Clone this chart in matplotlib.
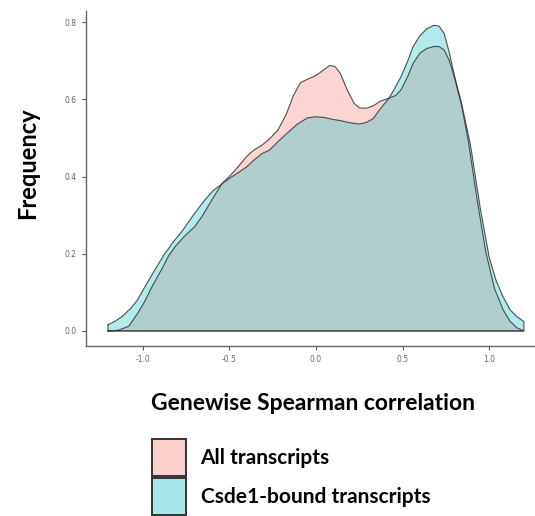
import matplotlib
matplotlib.use("Agg")
import matplotlib.pyplot as plt
from matplotlib.colors import to_rgba
from matplotlib.patches import Patch

# density curves
all_x = [-1.2, -1.14, -1.08, -1.03, -0.99, -0.94, -0.89, -0.85, -0.81, -0.76,
         -0.70, -0.66, -0.62, -0.58, -0.54, -0.50, -0.45, -0.40, -0.36, -0.31,
         -0.27, -0.22, -0.17, -0.13, -0.09, -0.05, 0.0, 0.04, 0.08, 0.11,
         0.14, 0.18, 0.22, 0.25, 0.29, 0.33, 0.37, 0.42, 0.46, 0.49,
         0.53, 0.56, 0.60, 0.64, 0.68, 0.71, 0.74, 0.77, 0.80, 0.84,
         0.88, 0.93, 0.98, 1.03, 1.08, 1.12, 1.16, 1.2]
all_y = [0.0, 0.002, 0.012, 0.045, 0.075, 0.12, 0.16, 0.195, 0.22, 0.245,
         0.27, 0.295, 0.325, 0.355, 0.383, 0.40, 0.425, 0.452, 0.468, 0.482,
         0.497, 0.52, 0.563, 0.61, 0.643, 0.652, 0.662, 0.675, 0.688, 0.685,
         0.668, 0.625, 0.59, 0.578, 0.577, 0.583, 0.595, 0.603, 0.61, 0.624,
         0.66, 0.693, 0.72, 0.732, 0.737, 0.737, 0.728, 0.70, 0.655, 0.585,
         0.49, 0.34, 0.205, 0.11, 0.055, 0.025, 0.008, 0.0]

csde_x = [-1.2, -1.16, -1.12, -1.07, -1.03, -0.98, -0.93, -0.88, -0.83, -0.77,
          -0.70, -0.64, -0.59, -0.54, -0.50, -0.45, -0.40, -0.36, -0.31, -0.27,
          -0.22, -0.17, -0.11, -0.05, 0.0, 0.05, 0.10, 0.14, 0.19, 0.25,
          0.29, 0.33, 0.37, 0.42, 0.45, 0.49, 0.53, 0.56, 0.60, 0.64,
          0.68, 0.71, 0.74, 0.77, 0.80, 0.84, 0.89, 0.95, 1.00, 1.04,
          1.08, 1.12, 1.16, 1.2]
csde_y = [0.016, 0.025, 0.037, 0.058, 0.08, 0.12, 0.158, 0.195, 0.227, 0.26,
          0.305, 0.34, 0.365, 0.382, 0.395, 0.41, 0.425, 0.442, 0.46, 0.468,
          0.49, 0.511, 0.535, 0.552, 0.555, 0.553, 0.548, 0.545, 0.54, 0.536,
          0.54, 0.55, 0.575, 0.602, 0.625, 0.658, 0.70, 0.736, 0.765, 0.783,
          0.792, 0.79, 0.77, 0.72, 0.66, 0.59, 0.486, 0.313, 0.19, 0.13,
          0.088, 0.055, 0.037, 0.024]

labels = ["All transcripts", "Csde1-bound transcripts"]
colors = ["#F8766D", "#00BFC4"]
xticks = [-1.0, -0.5, 0.0, 0.5, 1.0]
yticks = [0.0, 0.2, 0.4, 0.6, 0.8]

fig = plt.figure(figsize=(5.35, 5.16), dpi=100)
ax = fig.add_axes([86 / 535, 1 - 346 / 516, 1 - 86 / 535, (346 - 11) / 516])

for xs, ys, c in [(all_x, all_y, colors[0]), (csde_x, csde_y, colors[1])]:
    ax.fill_between(xs, 0, ys, facecolor=c, alpha=0.3, edgecolor="none")
    ax.plot(xs + [xs[-1], xs[0], xs[0]], ys + [0, 0, ys[0]],
            color="#333333", lw=0.8, alpha=0.85)

ax.set_xlim(-1.327, 1.264)
ax.set_ylim(-0.039, 0.829)
ax.set_xticks(xticks)
ax.set_yticks(yticks)
ax.set_xticklabels([f"{t:.1f}" for t in xticks])
ax.set_yticklabels([f"{t:.1f}" for t in yticks])
ax.tick_params(labelsize=5.5, colors="#555555", labelcolor="#6b6460",
               length=3, width=0.8)
for s in ["top", "right"]:
    ax.spines[s].set_visible(False)
for s in ["left", "bottom"]:
    ax.spines[s].set_color("#666666")
    ax.spines[s].set_linewidth(1.0)

fig.text(28 / 535, 1 - 163 / 516, "Frequency", rotation=90, ha="center",
         va="center", fontsize=17, fontweight="bold", family="Lato")
fig.text(313 / 535, 1 - 404 / 516, "Genewise Spearman correlation",
         ha="center", va="center", fontsize=16.5, fontweight="bold", family="Lato")

# legend keys: translucent fill, solid dark outline
handles = [Patch(facecolor=to_rgba(c, 0.35), edgecolor="#333333", lw=1.4)
           for c in colors]
fig.legend(handles, labels, loc="upper left",
           bbox_to_anchor=(152 / 535, 1 - 439 / 516), frameon=False,
           borderpad=0, borderaxespad=0, handlelength=1.63,
           handleheight=2.35, labelspacing=0.1, handletextpad=0.7,
           prop={"family": "Lato", "weight": "bold", "size": 15})

fig.savefig("out.png", dpi=100)
